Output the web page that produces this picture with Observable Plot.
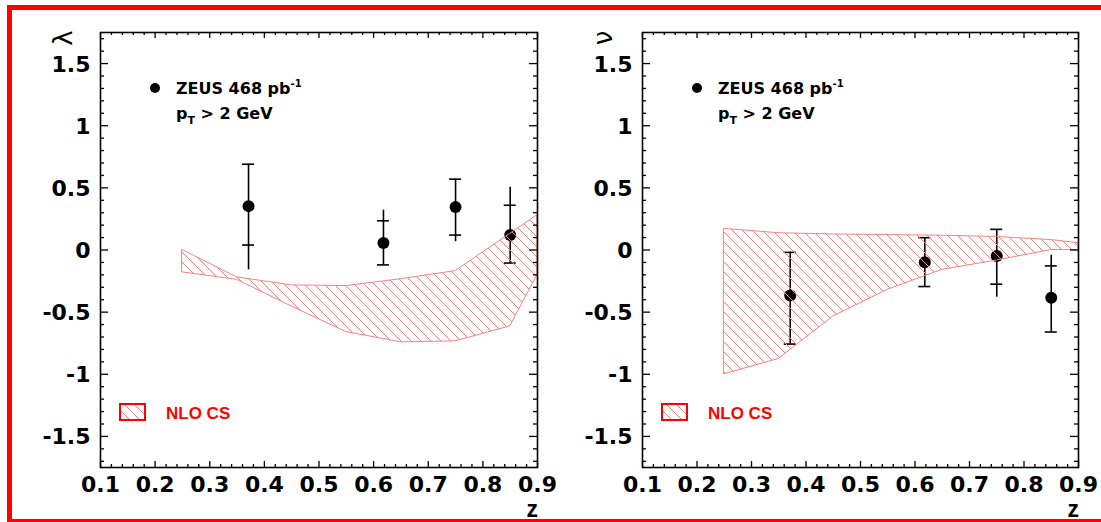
<!DOCTYPE html>
<html>
<head>
<meta charset="utf-8">
<script src="https://cdn.jsdelivr.net/npm/d3@7"></script>
<script src="https://cdn.jsdelivr.net/npm/@observablehq/plot@0.6"></script>
<style>
  html, body { margin: 0; padding: 0; background: #fff; }
  #page { position: relative; width: 1101px; height: 522px; overflow: hidden; background: #fff; }
  #border { position: absolute; left: 7px; top: 5px; width: 1130px; height: 509px; border: 5px solid #ff0000; }
  .panel { position: absolute; top: 0; }
</style>
</head>
<body>
<div id="page"><div id="border"></div></div>
<script>
// ZEUS measurement: z bins, central values and error-bar ends
const zPoints = [0.371, 0.618, 0.750, 0.850];

const lambdaValue  = [0.353, 0.056, 0.345, 0.120];
const lambdaStatHi = [0.690, 0.235, 0.570, 0.360];
const lambdaStatLo = [0.040, -0.120, 0.120, -0.105];
const lambdaTotHi  = [0.690, 0.320, 0.570, 0.505];
const lambdaTotLo  = [-0.160, -0.120, 0.067, -0.105];

const nuValue  = [-0.367, -0.099, -0.048, -0.385];
const nuStatHi = [-0.019, 0.099, 0.166, -0.128];
const nuStatLo = [-0.757, -0.294, -0.275, -0.660];
const nuTotHi  = [-0.019, 0.099, 0.166, -0.042];
const nuTotLo  = [-0.757, -0.294, -0.380, -0.660];

// NLO colour-singlet prediction band
const zBand        = [0.25, 0.35, 0.45, 0.55, 0.65, 0.75, 0.85, 0.90];
const lambdaBandHi = [0.00, -0.22, -0.285, -0.29, -0.235, -0.17, 0.13, 0.28];
const lambdaBandLo = [-0.18, -0.24, -0.455, -0.66, -0.743, -0.735, -0.615, -0.20];
const nuBandHi     = [0.17, 0.135, 0.125, 0.12, 0.115, 0.105, 0.08, 0.055];
const nuBandLo     = [-1.00, -0.877, -0.535, -0.32, -0.16, -0.085, 0.0, 0.0];

// axis ticks
const xTickLabels = ["0.1", "0.2", "0.3", "0.4", "0.5", "0.6", "0.7", "0.8", "0.9"];
const yTickLabels = ["-1.5", "-1", "-0.5", "0", "0.5", "1", "1.5"];

const bandRed = "#f08484";
const H = 522, MT = 32, MB = 55, ML = 100;

function hatchDefs(svg, id, color) {
  const defs = d3.select(svg).insert("defs", ":first-child");
  const p = defs.append("pattern")
    .attr("id", id)
    .attr("patternUnits", "userSpaceOnUse")
    .attr("width", 10).attr("height", 10);
  p.append("path")
    .attr("d", "M-2,-2L12,12M-7,3L3,13M3,-7L13,3")
    .attr("stroke", color).attr("stroke-width", 1).attr("fill", "none");
}

function panel({left, width, marginRight, title, titleX, values, statHi, statLo, totHi, totLo, bandHi, bandLo, id}) {
  const innerW = width - ML - marginRight;
  const innerH = H - MT - MB;
  const points = zPoints.map((z, i) => ({z, v: values[i], sHi: statHi[i], sLo: statLo[i], tHi: totHi[i], tLo: totLo[i]}));
  const band = zBand.map((z, i) => ({z, hi: bandHi[i], lo: bandLo[i]}));
  const capHalf = 6 * 0.8 / innerW;

  const xMajor = xTickLabels.map(Number);
  const xMinor = d3.range(0, 41).map(i => 0.1 + i * 0.02).filter(v => Math.abs(v * 10 - Math.round(v * 10)) > 1e-6);
  const yMajor = yTickLabels.map(Number);
  const yMinor = d3.range(-17, 18).map(i => i / 10).filter(v => Math.abs(v * 2 - Math.round(v * 2)) > 1e-6);

  const tick = {stroke: "black", strokeWidth: 1.3};
  const labelFont = {fontSize: 22, fontWeight: "bold", fontFamily: "DejaVu Sans, sans-serif", fill: "black"};

  const svg = Plot.plot({
    width, height: H,
    marginTop: MT, marginBottom: MB, marginLeft: ML, marginRight,
    x: {domain: [0.1, 0.9], axis: null},
    y: {domain: [-1.75, 1.75], axis: null},
    style: {background: "transparent", overflow: "visible"},
    marks: [
      Plot.ruleX(points, {x: "z", y1: "tLo", y2: "tHi", stroke: "black", strokeWidth: 1.6}),
      Plot.ruleY(points, {y: "sHi", x1: d => d.z - capHalf, x2: d => d.z + capHalf, stroke: "black", strokeWidth: 1.6}),
      Plot.ruleY(points, {y: "sLo", x1: d => d.z - capHalf, x2: d => d.z + capHalf, stroke: "black", strokeWidth: 1.6}),
      Plot.dot(points, {x: "z", y: "v", r: 6, fill: "black", stroke: "none"}),
      Plot.areaY(band, {x: "z", y1: "lo", y2: "hi", fill: `url(#${id})`, stroke: bandRed, strokeWidth: 1}),
      // inward ticks on all four sides
      Plot.ruleX(xMajor, {x: d => d, insetTop: innerH - 6, ...tick}),
      Plot.ruleX(xMajor, {x: d => d, insetBottom: innerH - 6, ...tick}),
      Plot.ruleX(xMinor, {x: d => d, insetTop: innerH - 3, ...tick}),
      Plot.ruleX(xMinor, {x: d => d, insetBottom: innerH - 3, ...tick}),
      Plot.ruleY(yMajor, {y: d => d, insetRight: innerW - 8, ...tick}),
      Plot.ruleY(yMajor, {y: d => d, insetLeft: innerW - 8, ...tick}),
      Plot.ruleY(yMinor, {y: d => d, insetRight: innerW - 4, ...tick}),
      Plot.ruleY(yMinor, {y: d => d, insetLeft: innerW - 4, ...tick}),
      Plot.text(xTickLabels, {x: d => +d, text: d => d, frameAnchor: "bottom", lineAnchor: "bottom", dy: 24, ...labelFont}),
      Plot.text(yTickLabels, {y: d => +d, text: d => d, frameAnchor: "left", textAnchor: "end", lineAnchor: "middle", dx: -10, dy: 1, ...labelFont}),
      Plot.frame({stroke: "black", strokeWidth: 1.6})
    ]
  });
  svg.classList.add("panel");
  svg.style.left = left + "px";
  svg.style.maxWidth = "none";
  hatchDefs(svg, id, bandRed);

  const s = d3.select(svg);
  const g = s.append("g").attr("text-anchor", "start");
  // axis titles
  g.append("text")
    .attr("transform", `translate(${titleX},38) rotate(-90)`)
    .attr("text-anchor", "middle")
    .attr("font-family", "DejaVu Sans, sans-serif")
    .attr("font-size", 26)
    .attr("fill", "black")
    .text(title);
  g.append("text")
    .attr("x", ML + innerW + 1).attr("y", 517)
    .attr("text-anchor", "end")
    .attr("font-family", "Liberation Sans, Arial, sans-serif")
    .attr("font-weight", "bold").attr("font-size", 23)
    .attr("fill", "black")
    .text("z");

  // data legend
  const lg = g.append("g").attr("font-family", "DejaVu Sans, sans-serif").attr("font-weight", "bold").attr("fill", "black");
  lg.append("circle").attr("cx", ML + 55).attr("cy", 88).attr("r", 5).attr("fill", "black");
  const t1 = lg.append("text").attr("x", ML + 76).attr("y", 94).attr("font-size", 16);
  t1.append("tspan").text("ZEUS 468 pb");
  t1.append("tspan").attr("dy", -7).attr("font-size", 10).text("-1");
  const t2 = lg.append("text").attr("x", ML + 76).attr("y", 119).attr("font-size", 16);
  t2.append("tspan").text("p");
  t2.append("tspan").attr("dy", 5).attr("font-size", 11).text("T");
  t2.append("tspan").attr("dy", -5).text(" > 2 GeV");

  // prediction legend
  g.append("rect")
    .attr("x", ML + 20).attr("y", 404).attr("width", 25).attr("height", 16)
    .attr("fill", `url(#${id})`).attr("stroke", "#ff0000").attr("stroke-width", 2);
  g.append("text")
    .attr("x", ML + 66).attr("y", 419)
    .attr("font-family", "Liberation Sans, Arial, sans-serif")
    .attr("font-weight", "bold").attr("font-size", 17)
    .attr("fill", "#ff0000")
    .text("NLO CS");

  document.getElementById("page").appendChild(svg);
}

panel({left: 0, width: 550, marginRight: 13, title: "λ", titleX: 72,
  values: lambdaValue, statHi: lambdaStatHi, statLo: lambdaStatLo, totHi: lambdaTotHi, totLo: lambdaTotLo,
  bandHi: lambdaBandHi, bandLo: lambdaBandLo, id: "hatch-lambda"});

panel({left: 542, width: 559, marginRight: 23, title: "ν", titleX: 70,
  values: nuValue, statHi: nuStatHi, statLo: nuStatLo, totHi: nuTotHi, totLo: nuTotLo,
  bandHi: nuBandHi, bandLo: nuBandLo, id: "hatch-nu"});
</script>
</body>
</html>
